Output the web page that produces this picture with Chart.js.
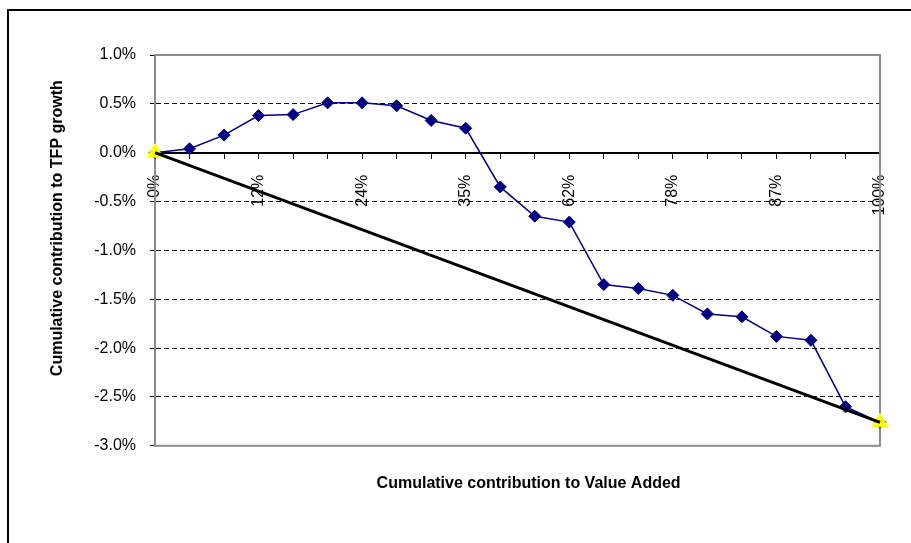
<!DOCTYPE html>
<html>
<head>
<meta charset="utf-8">
<script src="https://cdn.jsdelivr.net/npm/chart.js@4"></script>
<style>
  html, body { margin: 0; padding: 0; background: #fff; }
  #wrap { position: relative; width: 911px; height: 543px; overflow: hidden; }
  #frame { position: absolute; left: 7px; top: 9px; width: 1000px; height: 1000px;
           border-left: 2px solid #000; border-top: 2px solid #000; pointer-events: none; }
  canvas { position: absolute; left: 0; top: 0; }
</style>
</head>
<body>
<div id="wrap">
  <canvas id="chart" width="911" height="543"></canvas>
  <div id="frame"></div>
</div>
<script>
// x categories (only every third one carries a label)
const categories = ['0%', '', '', '12%', '', '', '24%', '', '', '35%', '', '',
                    '62%', '', '', '78%', '', '', '87%', '', '', '100%'];

// cumulative contribution to TFP growth, in %
const tfpCumulative = [0, 0.04, 0.18, 0.38, 0.39, 0.51, 0.51, 0.48, 0.33, 0.25, -0.35,
                       -0.65, -0.71, -1.35, -1.39, -1.46, -1.65, -1.68, -1.88, -1.92, -2.60, -2.76];

// straight reference line between first and last point
const refLine = categories.map((c, i) => (i === 0 ? 0 : i === categories.length - 1 ? -2.76 : null));

const Y_MIN = -3.0;
const Y_MAX = 1.0;
const Y_STEP = 0.5;

const FONT = "'Liberation Sans', Arial, sans-serif";

// grey plot-area frame like the Excel original
const plotFrame = {
  id: 'plotFrame',
  beforeDatasetsDraw(chart) {
    const { ctx, chartArea: a } = chart;
    ctx.save();
    ctx.strokeStyle = '#8c8c8c';
    ctx.lineWidth = 2;
    ctx.strokeRect(a.left, a.top, a.right - a.left, a.bottom - a.top);
    ctx.restore();
  },
};

const ctx = document.getElementById('chart').getContext('2d');

new Chart(ctx, {
  type: 'line',
  data: {
    labels: categories,
    datasets: [
      {
        label: 'TFP',
        data: tfpCumulative,
        borderColor: '#000080',
        backgroundColor: '#000080',
        borderWidth: 1.5,
        pointStyle: 'rectRot',
        pointRadius: 6,
        pointBorderWidth: 1,
        tension: 0,
        clip: false,
        order: 3,
      },
      {
        label: 'ends',
        data: refLine,
        showLine: false,
        pointStyle: 'triangle',
        pointRadius: 9,
        pointBackgroundColor: '#ffff00',
        pointBorderColor: '#ffff00',
        pointBorderWidth: 1,
        spanGaps: true,
        clip: false,
        order: 2,
      },
      {
        label: 'ref',
        data: refLine,
        borderColor: '#000',
        borderWidth: 3,
        pointRadius: 0,
        spanGaps: true,
        clip: false,
        order: 1,
      },
    ],
  },
  options: {
    responsive: false,
    animation: false,
    layout: { padding: { left: 0, top: 55, right: 31, bottom: 44 } },
    plugins: {
      legend: { display: false },
      tooltip: { enabled: false },
    },
    scales: {
      x: {
        type: 'category',
        position: { y: 0 },
        offset: false,
        afterFit(scale) { scale.paddingLeft = 0; scale.paddingRight = 0; },
        grid: { drawOnChartArea: false, drawTicks: true, tickLength: 5, tickColor: '#000', tickWidth: 1 },
        border: { color: '#000', width: 2 },
        ticks: {
          autoSkip: false,
          maxRotation: 90,
          minRotation: 90,
          padding: 17,
          color: '#000',
          font: { family: FONT, size: 16 },
        },
      },
      x2: {
        type: 'category',
        position: 'bottom',
        grid: { display: false },
        border: { display: false },
        ticks: { display: false },
        title: {
          display: true,
          text: '     Cumulative contribution to Value Added',
          color: '#000',
          font: { family: FONT, size: 16, weight: 'bold' },
          padding: { top: 20, bottom: 6 },
        },
      },
      y: {
        min: Y_MIN,
        max: Y_MAX,
        afterFit(scale) { scale.width = 155; },
        grid: { color: '#000', lineWidth: 1, tickLength: 5, tickColor: '#000' },
        border: { color: '#000', width: 2, dash: [5, 3] },
        ticks: {
          stepSize: Y_STEP,
          padding: 14,
          color: '#000',
          font: { family: FONT, size: 16 },
          callback: v => v.toFixed(1) + '%',
        },
        title: {
          display: true,
          text: '          Cumulative contribution to TFP growth',
          color: '#000',
          font: { family: FONT, size: 16, weight: 'bold' },
          padding: { top: 48, bottom: 0 },
        },
      },
    },
  },
  plugins: [plotFrame],
});
</script>
</body>
</html>
